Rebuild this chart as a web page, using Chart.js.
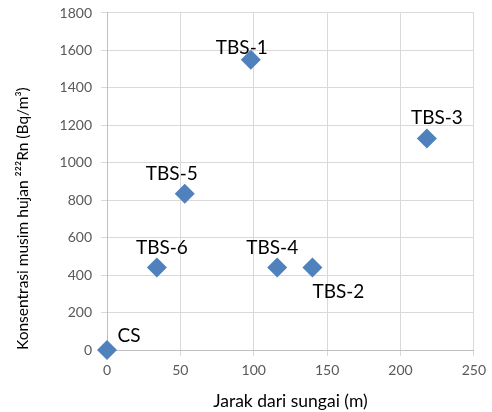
<!DOCTYPE html>
<html>
<head>
<meta charset="utf-8">
<script src="https://cdn.jsdelivr.net/npm/chart.js@4/dist/chart.umd.min.js"></script>
<style>
  html, body { margin: 0; padding: 0; background: #fff; }
</style>
</head>
<body>
<canvas id="radonChart" width="492" height="412"></canvas>
<script>
// --- Data ---
const siteNames = ["CS", "TBS-6", "TBS-5", "TBS-1", "TBS-4", "TBS-2", "TBS-3"];
const distance = [0, 34, 53, 98, 116, 140, 218];        // Jarak dari sungai (m)
const radonConc = [0, 440, 835, 1550, 440, 440, 1130];   // Bq/m3

// label offsets in px (label centre relative to point)
const labelDx = [22, 5, -13, -9, -5, 26, 10];
const labelDy = [-15, -21, -21, -13, -21, 23, -21];

const points = distance.map((d, i) => ({ x: d, y: radonConc[i] }));

const pointLabels = {
  id: "pointLabels",
  afterDatasetsDraw(chart) {
    const ctx = chart.ctx;
    const meta = chart.getDatasetMeta(0);
    ctx.save();
    ctx.font = "19px Lato";
    ctx.fillStyle = "#000";
    ctx.textAlign = "center";
    ctx.textBaseline = "alphabetic";
    meta.data.forEach((pt, i) => {
      ctx.fillText(siteNames[i], pt.x + labelDx[i], pt.y + labelDy[i] + 7);
    });
    ctx.restore();
  }
};

const ctx = document.getElementById("radonChart").getContext("2d");
new Chart(ctx, {
  type: "scatter",
  data: {
    datasets: [{
      data: points,
      pointStyle: "rectRot",
      pointRadius: 10,
      pointHoverRadius: 10,
      backgroundColor: "#4f81bd",
      borderColor: "#4f81bd",
      borderWidth: 0,
      clip: false
    }]
  },
  options: {
    responsive: false,
    animation: false,
    layout: { padding: { top: 10, right: 15, left: 0, bottom: 0 } },
    plugins: { legend: { display: false }, tooltip: { enabled: false } },
    scales: {
      x: {
        type: "linear",
        min: 0,
        max: 250,
        ticks: { stepSize: 50, color: "#595959", font: { family: "Lato", size: 14 }, padding: 6, callback: (v) => String(v) },
        grid: { color: "#d9d9d9", tickLength: 6 },
        border: { color: "#bfbfbf" },
        title: {
          display: true,
          text: "Jarak dari sungai (m)",
          color: "#000",
          font: { family: "Lato", size: 17.5 },
          padding: { top: 0, bottom: 0 }
        },
        afterFit: (s) => { s.height = 62; }
      },
      y: {
        min: 0,
        max: 1800,
        ticks: { stepSize: 200, color: "#595959", font: { family: "Lato", size: 14, lineHeight: 0.57 }, padding: 9, callback: (v) => String(v) },
        grid: { color: "#d9d9d9", tickLength: 6 },
        border: { color: "#bfbfbf" },
        title: {
          display: true,
          align: "start",
          text: "Konsentrasi musim hujan \u00B2\u00B2\u00B2Rn (Bq/m\u00B3)",
          color: "#000",
          font: { family: "Lato", size: 15.5 },
          padding: { top: 14, bottom: 0 }
        },
        afterFit: (s) => { s.width = 107; }
      }
    }
  },
  plugins: [pointLabels]
});
</script>
</body>
</html>
